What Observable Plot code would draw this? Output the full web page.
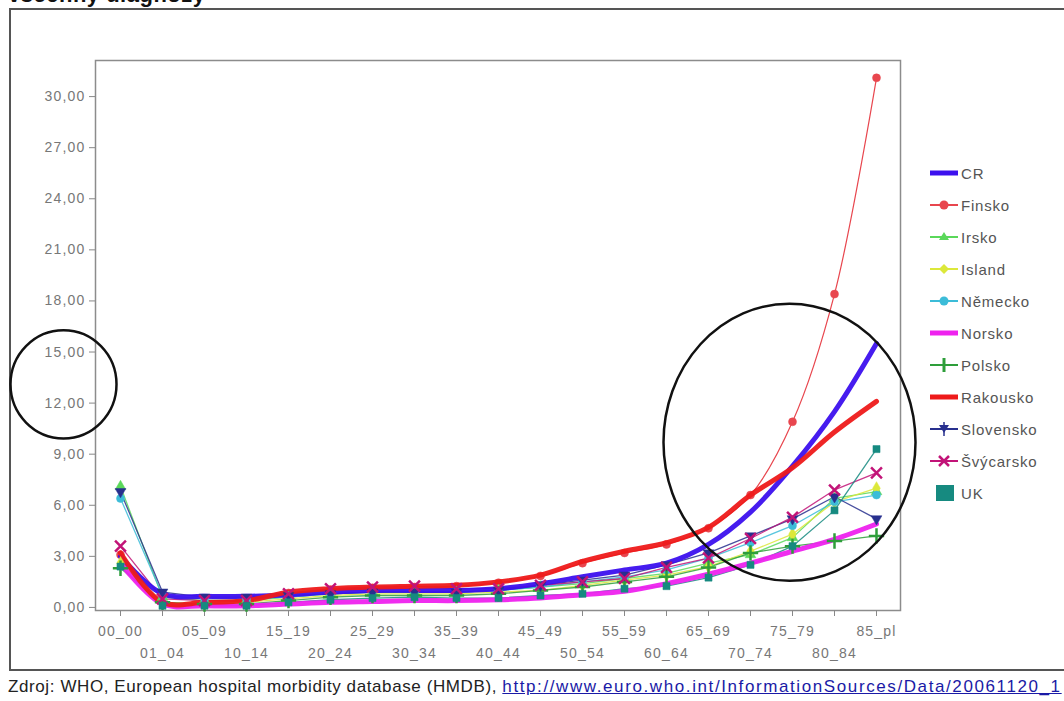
<!DOCTYPE html>
<html><head><meta charset="utf-8">
<script src="https://cdn.jsdelivr.net/npm/d3@7"></script>
<script src="https://cdn.jsdelivr.net/npm/@observablehq/plot@0.6"></script>
<style>
html,body{margin:0;padding:0;background:#fff;}
#wrap{position:relative;width:1064px;height:701px;overflow:hidden;background:#fff;font-family:Arial,"Liberation Sans",sans-serif;}
#outer{position:absolute;left:9px;top:8px;width:1100px;height:663px;border:2px solid #555;box-sizing:border-box;}
#title{position:absolute;left:8px;top:-18px;font-size:22px;font-weight:bold;color:#111;white-space:nowrap;letter-spacing:0.5px;}
#caption{position:absolute;left:8px;top:677px;font-size:17px;letter-spacing:0.6px;color:#222;white-space:nowrap;}
#caption a{color:#1a1aa6;text-decoration:underline;letter-spacing:1.6px;}
#legend{position:absolute;left:928px;top:157px;}
.li{height:32px;display:flex;align-items:center;font-size:15px;letter-spacing:0.8px;color:#555;}
.li svg{margin-right:1px;}
#chart{position:absolute;left:0;top:0;}
#chart svg text{letter-spacing:1.2px;}
</style></head>
<body><div id="wrap">
<div id="outer"></div>
<div id="title">všechny diagnózy</div>
<div id="chart"></div>
<div id="legend"></div>
<div id="caption">Zdroj: WHO, European hospital morbidity database (HMDB), <a>http://www.euro.who.int/InformationSources/Data/20061120_1</a></div>
</div>
<script>
const categories = ["00_00","01_04","05_09","10_14","15_19","20_24","25_29","30_34","35_39","40_44","45_49","50_54","55_59","60_64","65_69","70_74","75_79","80_84","85_pl"];
const yTicks = [0,3,6,9,12,15,18,21,24,27,30];

const CR        = [3.0,0.8,0.65,0.65,0.75,0.9,1.0,1.0,1.0,1.1,1.4,1.8,2.2,2.6,3.7,5.6,8.3,11.5,15.5];
const Finsko    = [3.1,0.3,0.3,0.4,0.85,1.05,1.15,1.2,1.25,1.45,1.85,2.6,3.2,3.7,4.65,6.6,10.9,18.4,31.1];
const Irsko     = [7.1,0.6,0.4,0.4,0.6,0.8,0.9,0.9,0.9,1.0,1.2,1.4,1.7,2.0,2.6,3.1,4.1,6.4,6.8];
const Island    = [2.6,0.3,0.2,0.3,0.5,0.7,0.8,0.8,0.8,0.9,1.0,1.3,1.6,1.9,2.4,3.3,4.3,6.2,7.0];
const Nemecko   = [6.4,0.7,0.5,0.5,0.6,0.8,0.9,0.9,0.9,1.0,1.2,1.5,1.8,2.2,2.9,3.8,4.8,6.2,6.6];
const Norsko    = [2.6,0.2,0.1,0.1,0.2,0.3,0.35,0.4,0.4,0.45,0.55,0.75,0.95,1.4,1.95,2.6,3.3,4.0,4.9];
const Polsko    = [2.3,0.3,0.2,0.2,0.4,0.6,0.7,0.7,0.7,0.8,1.0,1.2,1.5,1.8,2.35,3.2,3.6,3.9,4.2];
const Rakousko  = [3.2,0.3,0.3,0.4,0.9,1.1,1.2,1.25,1.3,1.5,1.9,2.7,3.3,3.8,4.7,6.6,8.2,10.3,12.1];
const Slovensko = [6.8,0.9,0.6,0.6,0.7,0.8,0.9,0.9,0.9,1.0,1.3,1.6,1.9,2.5,3.2,4.2,5.2,6.5,5.2];
const Svycarsko = [3.6,0.5,0.4,0.4,0.8,1.1,1.2,1.25,1.1,1.1,1.3,1.5,1.7,2.35,2.9,4.05,5.3,6.9,7.9];
const UK        = [2.4,0.1,0.1,0.1,0.3,0.45,0.55,0.6,0.55,0.55,0.7,0.8,1.1,1.25,1.75,2.5,3.6,5.7,9.3];

const seriesNames = ["CR","Finsko","Irsko","Island","Německo","Norsko","Polsko","Rakousko","Slovensko","Švýcarsko","UK"];
const seriesValues = [CR,Finsko,Irsko,Island,Nemecko,Norsko,Polsko,Rakousko,Slovensko,Svycarsko,UK];
const seriesColors = ["#3c10ee","#e8464e","#5ad85a","#dce83a","#3cbcd8","#ee22ee","#2e9e3a","#ee1a1a","#28308e","#c21478","#168a80"];
const seriesKind = ["thick","thin","mark","mark","mark","thick","mark","thick","mark","mark","mark"];
const seriesSymbol = [null,"circle","triangle","diamond","circle",null,"plus",null,"triangle","times","square"];

const rows = [];
seriesNames.forEach((s,k)=>seriesValues[k].forEach((v,i)=>rows.push({series:s,cat:categories[i],value:v,k})));
const color = Object.fromEntries(seriesNames.map((s,k)=>[s,seriesColors[k]]));
const bySeries = s => rows.filter(r=>r.series===s);

function markerOpts(s,k){
  const opts = {x:"cat",y:"value",symbol:()=>seriesSymbol[k],r:4};
  if(seriesSymbol[k]==="plus"||seriesSymbol[k]==="times"){ opts.stroke=seriesColors[k]; opts.strokeWidth=2.5; opts.r=5; }
  else { opts.fill=seriesColors[k]; opts.stroke=seriesColors[k]; opts.strokeWidth=0.5; }
  if(s==="Slovensko") opts.rotate=180;
  return opts;
}

const fmt = d => d.toFixed(2).replace(".",",");
const marks = [
  Plot.frame({stroke:"#8c8c8c", strokeWidth:1.5}),
  Plot.axisY({ticks:yTicks, tickFormat:fmt, tickSize:6, tickPadding:4, fontSize:14, color:"#777", stroke:"#888", label:null}),
  Plot.axisX({ticks:categories, tickSize:6, tickPadding:10, fontSize:14, color:"#777", stroke:"#888", label:null,
    tickFormat:d => categories.indexOf(d)%2===0 ? d : ""}),
  Plot.axisX({ticks:categories.filter((d,i)=>i%2===1), tickSize:0, tickPadding:38, fontSize:14, color:"#777", label:null}),
];
marks.push(Plot.line(bySeries("Finsko"),{x:"cat",y:"value",stroke:color["Finsko"],strokeWidth:1.2,curve:"catmull-rom"}));
marks.push(Plot.dot(bySeries("Finsko"),markerOpts("Finsko",1)));
seriesNames.forEach((s,k)=>{ if(seriesKind[k]==="mark") marks.push(Plot.line(bySeries(s),{x:"cat",y:"value",stroke:seriesColors[k],strokeWidth:1.3,strokeOpacity:0.85})); });
["Norsko","CR","Rakousko"].forEach(s=>marks.push(Plot.line(bySeries(s),{x:"cat",y:"value",stroke:color[s],strokeWidth:5,curve:"catmull-rom",strokeOpacity:0.95})));
seriesNames.forEach((s,k)=>{
  if(!seriesSymbol[k] || s==="Finsko") return;
  marks.push(Plot.dot(bySeries(s),markerOpts(s,k)));
});
const annot = [{cat:"75_79",value:9.7,r:126,dx:-3,sy:1.1},{cat:"00_00",value:13.1,r:53,dx:-57,sy:1.02}];
marks.push(Plot.dot(annot,{x:"cat",y:"value",r:"r",stroke:"#111",strokeWidth:2.5,fill:"none"}));

const chart = Plot.plot({
  width:1064, height:701,
  marginLeft:95, marginRight:164, marginTop:60, marginBottom:91,
  x:{type:"point", domain:categories, padding:0.5, axis:null, label:null},
  y:{domain:[-0.18,32.12], axis:null, label:null},
  r:{type:"identity"},
  style:{fontFamily:"Arial, 'Liberation Sans', sans-serif", background:"transparent", overflow:"visible"},
  marks
});
document.getElementById("chart").appendChild(chart);
const dotGroups = chart.querySelectorAll("g[aria-label='dot']");
const last = dotGroups[dotGroups.length-1];
last.querySelectorAll("circle").forEach((c,i)=>{
  const cx = +c.getAttribute("cx")||0, cy = +c.getAttribute("cy")||0;
  c.setAttribute("vector-effect","non-scaling-stroke");
  c.setAttribute("transform",`translate(${annot[i].dx},0) translate(${cx},${cy}) scale(1,${annot[i].sy}) translate(${-cx},${-cy})`);
});

const lg = document.getElementById("legend");
seriesNames.forEach((s,k)=>{
  const div = document.createElement("div"); div.className="li";
  const c = seriesColors[k];
  let sw = "";
  if(seriesKind[k]==="thick") sw = `<line x1="2" y1="8" x2="30" y2="8" stroke="${c}" stroke-width="5"/>`;
  else if(s==="UK") sw = `<rect x="8" y="0" width="18" height="16" fill="${c}"/>`;
  else {
    sw = `<line x1="2" y1="8" x2="30" y2="8" stroke="${c}" stroke-width="2"/>`;
    const sym = seriesSymbol[k];
    if(sym==="circle") sw += `<circle cx="16" cy="8" r="4.5" fill="${c}"/>`;
    if(sym==="triangle" && s!=="Slovensko") sw += `<path d="M16,3 L21,11 L11,11Z" fill="${c}"/>`;
    if(s==="Slovensko") sw += `<path d="M11,4 L21,4 L16,12Z" fill="${c}"/><line x1="16" y1="1" x2="16" y2="15" stroke="${c}" stroke-width="1.5"/>`;
    if(sym==="diamond") sw += `<path d="M16,3 L21,8 L16,13 L11,8Z" fill="${c}"/>`;
    if(sym==="plus") sw += `<line x1="16" y1="1" x2="16" y2="15" stroke="${c}" stroke-width="3"/>`;
    if(sym==="times") sw += `<path d="M11,3 L21,13 M21,3 L11,13" stroke="${c}" stroke-width="2.5"/>`;
  }
  div.innerHTML = `<svg width="32" height="16">${sw}</svg><span>${s}</span>`;
  lg.appendChild(div);
});
</script>
</body></html>
